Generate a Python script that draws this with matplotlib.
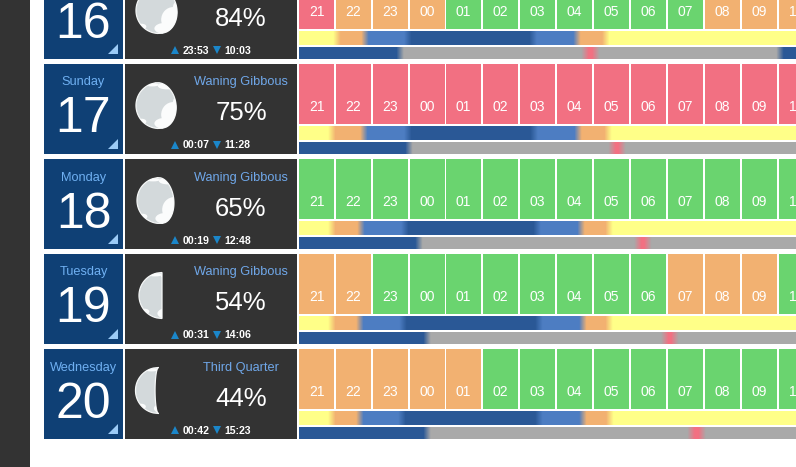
import numpy as np
import matplotlib.pyplot as plt
from matplotlib.colors import to_rgb
from matplotlib.patches import Rectangle, Polygon, Ellipse

plt.rcParams['font.family'] = ['Liberation Sans', 'DejaVu Sans']

#Data
day_numbers = ["16", "17", "18", "19", "20"]
day_names = ["", "Sunday", "Monday", "Tuesday", "Wednesday"]
phase_names = ["", "Waning Gibbous", "Waning Gibbous", "Waning Gibbous", "Third Quarter"]
illumination = ["84%", "75%", "65%", "54%", "44%"]
moon_rise = ["23:53", "00:07", "00:19", "00:31", "00:42"]
moon_set = ["10:03", "11:28", "12:48", "14:06", "15:23"]
hours = ["21", "22", "23", "00", "01", "02", "03", "04", "05", "06", "07", "08", "09", "10"]

# r = bad, o = average, g = good
hour_quality = [
    "rooogggggggooo",
    "rrrrrrrrrrrrrr",
    "gggggggggggggg",
    "ooggggggggooog",
    "ooooogggggggggg"[:14],
]

# twilight changes, hours after 21:00
sun_changes = [
    [1.03, 1.79, 2.95, 6.34, 7.53, 8.31],
    [0.89, 1.76, 2.95, 6.37, 7.56, 8.37],
    [0.89, 1.68, 2.87, 6.45, 7.64, 8.40],
    [0.89, 1.65, 2.82, 6.50, 7.69, 8.40],
    [0.89, 1.65, 2.79, 6.50, 7.69, 8.42],
]
sun_states = ["yellow", "orange", "light", "dark", "light", "orange", "yellow"]

# moon bar changes, hours after 21:00
moon_changes = [
    [2.74, 7.75, 8.04, 13.03],
    [2.98, 8.48, 8.75],
    [3.25, 9.18, 9.45],
    [3.47, 9.91, 10.18],
    [3.47, 10.62, 10.92],
]
moon_states = ["dark", "grey", "pink", "grey", "dark"]

# terminator bulge, tilt in degrees, moon centre relative to the moon cell
moon_bulge = [0.78, 0.74, 0.60, 0.0, -0.15]
moon_tilt = [-9, -9, -6, 0, 0]
moon_centre_x = [159, 159, 160, 162, 158.5]

# white patches on the moon disc, x y w h in radius units
patches_x = [0.62, 0.30, 0.35, -0.30, -0.75, 0.80]
patches_y = [0.40, 0.78, -0.85, -0.90, 0.70, -0.10]
patches_w = [1.05, 1.00, 0.80, 0.60, 0.40, 0.40]
patches_h = [1.10, 0.50, 0.30, 0.14, 0.25, 0.60]

colors = {
    "r": "#f27082", "o": "#f2b171", "g": "#6ad46f",
    "yellow": "#ffff88", "orange": "#f2b171", "light": "#4d7dc2", "dark": "#2a5896",
    "grey": "#a9a9a9", "pink": "#f27082",
}
CELL_DARK = "#333333"
DATE_BLUE = "#0f4075"
NAME_BLUE = "#6fb0f2"
PHASE_BLUE = "#70a8ea"
ARROW_BLUE = "#1b86c9"
CORNER_BLUE = "#9ccbf6"

ROW_TOP = -31
ROW_STEP = 95
BAR_LEFT = 299
BAR_RIGHT = 797
HOUR_PX = 36.92
BLEND = 0.1


def bar_image(changes, states):
    xs = np.arange(BAR_LEFT, BAR_RIGHT) + 0.5
    hrs = (xs - BAR_LEFT) / HOUR_PX
    stops = []
    rgb = []
    for i, h in enumerate(changes):
        stops += [h - BLEND, h + BLEND]
        rgb += [to_rgb(colors[states[i]]), to_rgb(colors[states[i + 1]])]
    rgb = np.array(rgb)
    img = np.stack([np.interp(hrs, stops, rgb[:, c]) for c in range(3)], axis=-1)
    return img[np.newaxis, :, :]


fig = plt.figure(figsize=(7.96, 4.67), dpi=100)
ax = fig.add_axes([0, 0, 1, 1])
ax.axis("off")

ax.add_patch(Rectangle((0, 0), 30, 467, color=CELL_DARK, lw=0))

for row, number in enumerate(day_numbers):
    top = ROW_TOP + row * ROW_STEP

    # date block
    ax.add_patch(Rectangle((44, top), 79, 90, color=DATE_BLUE, lw=0))
    ax.add_patch(Polygon([(118, top + 75), (118, top + 85), (108, top + 85)], color=CORNER_BLUE, lw=0))
    ax.text(83.5, top + 50.5, number, color="white", fontsize=36, ha="center", va="center_baseline")
    if day_names[row]:
        ax.text(83.5, top + 17, day_names[row], color=NAME_BLUE, fontsize=9.2, ha="center", va="center_baseline")

    # moon block
    ax.add_patch(Rectangle((125, top), 172, 90, color=CELL_DARK, lw=0))
    if phase_names[row]:
        ax.text(241, top + 17, phase_names[row], color=PHASE_BLUE, fontsize=9.2, ha="center", va="center_baseline")
    ax.text(241, top + 47, illumination[row], color="white", fontsize=18.5, ha="center", va="center_baseline")

    ax.plot([175], [top + 81], marker="^", ms=5.8, color=ARROW_BLUE, mew=0)
    ax.text(182.5, top + 80.5, moon_rise[row], color="white", fontsize=7.6, fontweight="bold", ha="left", va="center_baseline")
    ax.plot([217], [top + 81], marker="v", ms=5.8, color=ARROW_BLUE, mew=0)
    ax.text(224.5, top + 80.5, moon_set[row], color="white", fontsize=7.6, fontweight="bold", ha="left", va="center_baseline")

    # moon drawing
    radius = 23
    cy = top + 41.5
    t = np.linspace(-1, 1, 80)
    limb = -radius * np.sqrt(1 - t ** 2)
    term = radius * moon_bulge[row] * np.sqrt(1 - t ** 2)
    px = np.concatenate([limb, term[::-1]])
    py = np.concatenate([t, t[::-1]]) * radius
    tilt = np.radians(moon_tilt[row])
    mx = moon_centre_x[row] + px * np.cos(tilt) - py * np.sin(tilt)
    my = cy + px * np.sin(tilt) + py * np.cos(tilt)
    disc = Polygon(np.column_stack([mx, my]), facecolor="#d3d9db", edgecolor="#f4f6f6", lw=0.9, zorder=3)
    ax.add_patch(disc)
    for i in range(len(patches_x)):
        blotch = Ellipse(
            (moon_centre_x[row] + patches_x[i] * radius, cy + patches_y[i] * radius),
            patches_w[i] * radius, patches_h[i] * radius, color="#fbfcfc", lw=0, zorder=4,
        )
        ax.add_patch(blotch)
        blotch.set_clip_path(disc)

    # hourly cells
    for i, hour in enumerate(hours):
        left = BAR_LEFT + 37 * i - (1 if i >= 4 else 0)
        ax.add_patch(Rectangle((left, top), 35, 60, color=colors[hour_quality[row][i]], lw=0))
        ax.text(left + 17.5, top + 41.5, hour, color="white", fontsize=10, ha="center", va="center_baseline", clip_on=True)

    # twilight and moon bars
    ax.imshow(bar_image(sun_changes[row], sun_states), extent=(BAR_LEFT, BAR_RIGHT, top + 76, top + 62), aspect="auto", interpolation="nearest")
    ax.imshow(bar_image(moon_changes[row], moon_states), extent=(BAR_LEFT, BAR_RIGHT, top + 90, top + 78), aspect="auto", interpolation="nearest")

ax.set_xlim(0, 796)
ax.set_ylim(467, 0)

fig.savefig("out.png", dpi=100, facecolor="white")
